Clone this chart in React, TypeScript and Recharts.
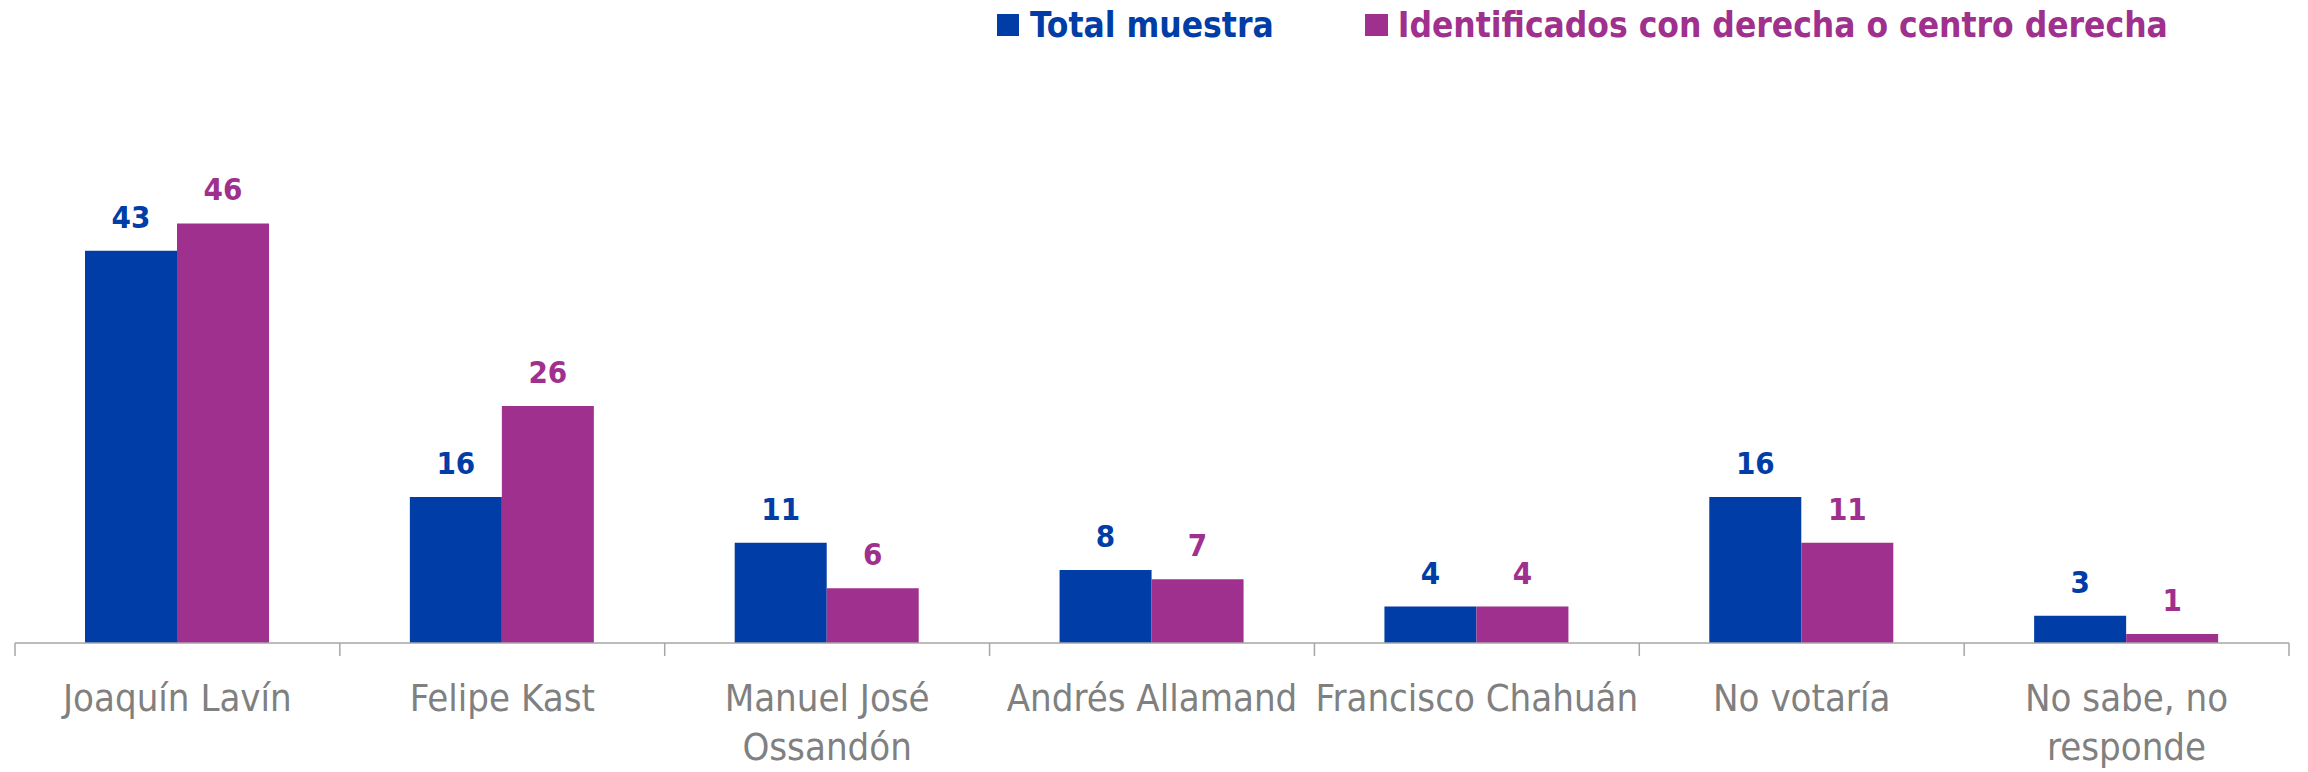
import React from "react";
import { BarChart, Bar, XAxis, YAxis, LabelList } from "recharts";

const categories = [
  "Joaquín Lavín",
  "Felipe Kast",
  "Manuel José Ossandón",
  "Andrés Allamand",
  "Francisco Chahuán",
  "No votaría",
  "No sabe, no responde",
];
const tickLines: string[][] = [
  ["Joaquín Lavín"],
  ["Felipe Kast"],
  ["Manuel José", "Ossandón"],
  ["Andrés Allamand"],
  ["Francisco Chahuán"],
  ["No votaría"],
  ["No sabe, no", "responde"],
];
const totalMuestra = [43, 16, 11, 8, 4, 16, 3];
const derecha = [46, 26, 6, 7, 4, 11, 1];
const seriesNames = ["Total muestra", "Identificados con derecha o centro derecha"];

const BLUE = "#003DA6";
const PURPLE = "#A0308E";
const AXIS_GRAY = "#A6A6A6";
const FONT = "'DejaVu Sans Condensed', 'Liberation Sans', sans-serif";
const CHART_W = 2308;
const MARGIN = { top: 187, right: 19, left: 15, bottom: 0 };

const data = categories.map((c, i) => ({
  name: c,
  total: totalMuestra[i],
  derecha: derecha[i],
}));

const Tick = (props: any) => {
  const { x, y, payload, width, visibleTicksCount } = props;
  const count = visibleTicksCount || categories.length;
  const plotW = width || CHART_W - MARGIN.left - MARGIN.right;
  const band = plotW / count;
  const lines = tickLines[payload.index] || [payload.value];
  return (
    <g>
      {payload.index === 0 && (
        <line x1={x - band / 2} x2={x - band / 2} y1={y} y2={y + 13} stroke={AXIS_GRAY} strokeWidth={1.5} />
      )}
      <line x1={x + band / 2} x2={x + band / 2} y1={y} y2={y + 13} stroke={AXIS_GRAY} strokeWidth={1.5} />
      {lines.map((l, i) => (
        <text
          key={i}
          x={x}
          y={y + 68 + i * 49}
          textAnchor="middle"
          fill="#808080"
          fontSize={38}
          fontFamily={FONT}
        >
          {l}
        </text>
      ))}
    </g>
  );
};

export default function App() {
  return (
    <div style={{ position: "absolute", left: 0, top: 0, width: 2308, height: 772, background: "#fff" }}>
      <div
        style={{
          position: "absolute",
          top: 5,
          left: 997,
          display: "flex",
          alignItems: "center",
          fontFamily: FONT,
          fontWeight: "bold",
          fontSize: 35,
          whiteSpace: "nowrap",
          zIndex: 2,
        }}
      >
        <span style={{ display: "inline-block", width: 22, height: 22, background: BLUE, marginRight: 11 }} />
        <span style={{ color: BLUE, marginRight: 91 }}>{seriesNames[0]}</span>
        <span style={{ display: "inline-block", width: 23, height: 22, background: PURPLE, marginRight: 10 }} />
        <span style={{ color: PURPLE }}>{seriesNames[1]}</span>
      </div>
      <BarChart
        width={CHART_W}
        height={772}
        data={data}
        margin={MARGIN}
        barGap={0}
        barSize={92}
      >
        <XAxis
          dataKey="name"
          interval={0}
          height={129}
          stroke={AXIS_GRAY}
          strokeWidth={1.5}
          tickLine={false}
          tickSize={0}
          tickMargin={0}
          tick={<Tick />}
        />
        <YAxis hide domain={[0, 50]} />
        <Bar dataKey="total" name={seriesNames[0]} fill={BLUE} isAnimationActive={false}>
          <LabelList dataKey="total" position="top" offset={23} fill={BLUE} fontSize={31} fontWeight="bold" fontFamily={FONT} />
        </Bar>
        <Bar dataKey="derecha" name={seriesNames[1]} fill={PURPLE} isAnimationActive={false}>
          <LabelList dataKey="derecha" position="top" offset={23} fill={PURPLE} fontSize={31} fontWeight="bold" fontFamily={FONT} />
        </Bar>
      </BarChart>
    </div>
  );
}
